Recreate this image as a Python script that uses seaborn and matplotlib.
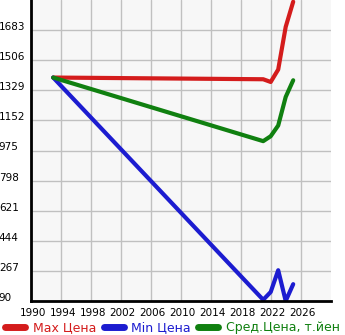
import matplotlib
matplotlib.use("Agg")
import matplotlib.pyplot as plt
import matplotlib.transforms as mtransforms
import seaborn as sns
import pandas as pd
from matplotlib.lines import Line2D

years = [1993, 2021, 2022, 2023, 2024, 2025]
max_price = [1404, 1394, 1378, 1451, 1702, 1850]
min_price = [1404, 97, 143, 271, 90, 189]
avg_price = [1404, 1030, 1059, 1122, 1290, 1388]
labels = ["Max Цена", "Min Цена", "Сред.Цена, т.йен"]
colors = ["#d41c1c", "#1c1cd0", "#108010"]
xticks = list(range(1990, 2027, 4))
yticks = [90, 267, 444, 621, 798, 975, 1152, 1329, 1506, 1683]

df = pd.DataFrame({
    "year": years * 3,
    "value": max_price + min_price + avg_price,
    "series": [labels[0]] * len(years) + [labels[1]] * len(years) + [labels[2]] * len(years),
})

sns.set_style("white")
plt.rcParams['font.family'] = ['DejaVu Sans']
fig = plt.figure(figsize=(3.45, 3.35), dpi=100)
ax = fig.add_axes([30.7 / 345, 34 / 335, 300 / 345, 301 / 335])
ax.set_facecolor("#f7f7f7")

sns.lineplot(data=df, x="year", y="value", hue="series", palette=colors,
             linewidth=3, ax=ax, legend=False, solid_capstyle="round",
             solid_joinstyle="round")

ax.set_xlim(1990, 2030)
ax.set_ylim(90, 1860)
ax.set_xticks(xticks)
ax.set_yticks(yticks)
ax.set_xticklabels([str(t) for t in xticks])
ax.set_yticklabels([str(t) for t in yticks])
ax.grid(True, color="#c0c0c0", linewidth=1)
ax.set_axisbelow(True)
ax.set_xlabel("")
ax.set_ylabel("")
for s in ["top", "right"]:
    ax.spines[s].set_visible(False)
for s in ["left", "bottom"]:
    ax.spines[s].set_color("black")
    ax.spines[s].set_linewidth(2)
ax.tick_params(axis="x", direction="out", length=3, width=1.5, labelsize=7.5, pad=2,
               color="black", labelcolor="black")
ax.tick_params(axis="y", direction="out", length=2, width=1, labelsize=7.5, pad=21,
               color="black", labelcolor="black")
for lab in ax.get_yticklabels():
    lab.set_horizontalalignment("left")
    lab.set_verticalalignment("baseline")
offset = mtransforms.ScaledTranslation(2 / 100, 0, fig.dpi_scale_trans)
for lab in ax.get_xticklabels():
    lab.set_transform(lab.get_transform() + offset)

handles = [Line2D([0], [0], color=c, lw=5, solid_capstyle="round") for c in colors]
leg = fig.legend(handles, labels, loc="center", bbox_to_anchor=(0.5, 7 / 335), ncol=3,
                 frameon=False, fontsize=9, handlelength=1.6, handletextpad=0.6,
                 columnspacing=0.6, borderpad=0, borderaxespad=0)
for t, c in zip(leg.get_texts(), colors):
    t.set_color(c)

fig.savefig("out.png", dpi=100)
